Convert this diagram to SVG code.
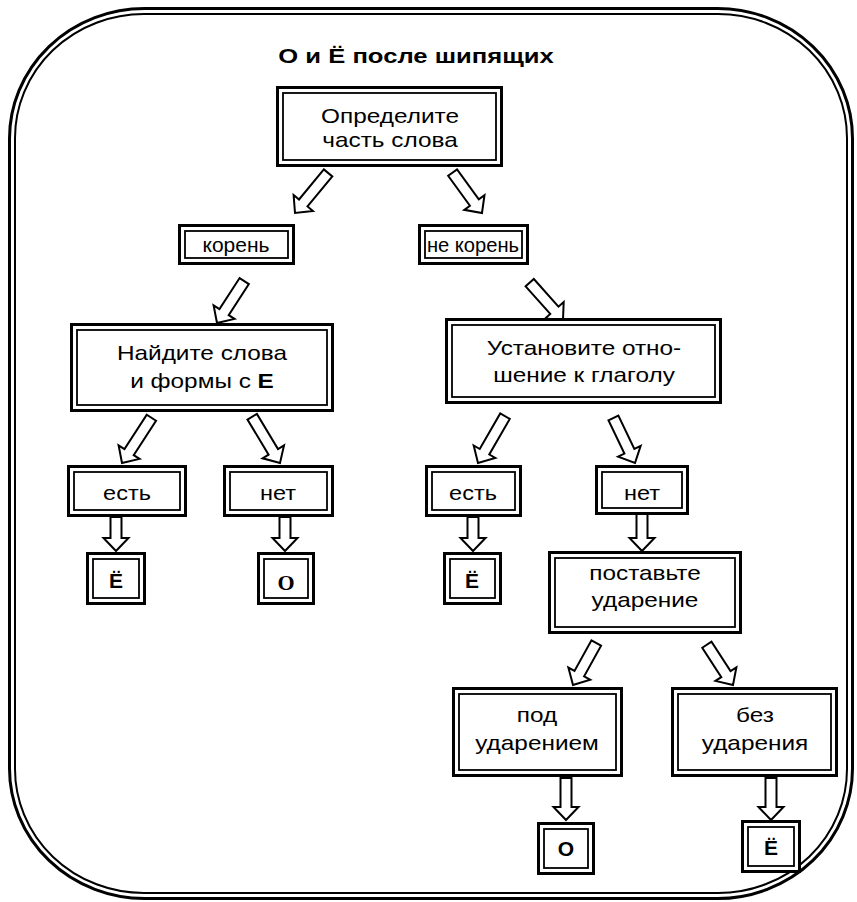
<svg xmlns="http://www.w3.org/2000/svg" xmlns:xlink="http://www.w3.org/1999/xlink" width="857" height="902" viewBox="0 0 857 902">
<style>
.o{fill:#fff;stroke:#000;stroke-width:3}
.i{fill:none;stroke:#000;stroke-width:1.8}
.f{fill:none;stroke:#000}
.t{font-family:"Liberation Sans",Arial,sans-serif;font-size:21px;fill:#000;text-anchor:middle}
.h{font-family:"Liberation Sans",Arial,sans-serif;font-size:21px;font-weight:bold;fill:#000;text-anchor:middle}
.l{font-family:"Liberation Sans",Arial,sans-serif;font-size:21px;font-weight:bold;fill:#000;text-anchor:middle}
.s{font-family:"Liberation Serif","Times New Roman",serif;font-size:22px;font-weight:bold;fill:#000;text-anchor:middle}
.ar{fill:#fff;stroke:#000;stroke-width:2;stroke-linejoin:miter}
</style>
<defs>
<path id="a34" class="ar" d="M-5.5,-34H5.5V-13H12.5L0,0L-12.5,-13H-5.5Z"/>
<path id="a38" class="ar" d="M-5.5,-38H5.5V-13H12.5L0,0L-12.5,-13H-5.5Z"/>
<path id="a42" class="ar" d="M-5.5,-42H5.5V-13H12.5L0,0L-12.5,-13H-5.5Z"/>
<path id="a48" class="ar" d="M-5.5,-48H5.5V-13H12.5L0,0L-12.5,-13H-5.5Z"/>
<path id="a50" class="ar" d="M-5.5,-50H5.5V-13H12.5L0,0L-12.5,-13H-5.5Z"/>
<path id="a52" class="ar" d="M-5.5,-52H5.5V-13H12.5L0,0L-12.5,-13H-5.5Z"/>
<path id="a54" class="ar" d="M-5.5,-54H5.5V-13H12.5L0,0L-12.5,-13H-5.5Z"/>
</defs>
<rect width="857" height="902" fill="#fff"/>
<g id="frame">
<rect class="f" x="9.5" y="8.5" width="843" height="890" rx="135" ry="130" stroke-width="3"/>
<rect class="f" x="15" y="14" width="832" height="879" rx="129" ry="124" stroke-width="2"/>
</g>
<g id="title">
<text class="h" transform="translate(416,0) scale(1.22,1)" y="63">О и Ё после шипящих</text>
</g>
<g id="connectors">
<use xlink:href="#a52" transform="translate(295,213) rotate(39.5)"/>
<use xlink:href="#a50" transform="translate(482,213) rotate(-36)"/>
<use xlink:href="#a50" transform="translate(217,323) rotate(33)"/>
<use xlink:href="#a50" transform="translate(563,320) rotate(-41.7)"/>
<use xlink:href="#a54" transform="translate(122,463) rotate(33)"/>
<use xlink:href="#a54" transform="translate(280,463) rotate(-31)"/>
<use xlink:href="#a54" transform="translate(478,463) rotate(30)"/>
<use xlink:href="#a50" transform="translate(635,463) rotate(-25.6)"/>
<use xlink:href="#a48" transform="translate(573,685) rotate(29)"/>
<use xlink:href="#a48" transform="translate(733,685) rotate(-33)"/>
<use xlink:href="#a34" transform="translate(116,551)"/>
<use xlink:href="#a34" transform="translate(285,551)"/>
<use xlink:href="#a34" transform="translate(473,551)"/>
<use xlink:href="#a38" transform="translate(642,551)"/>
<use xlink:href="#a42" transform="translate(566,820)"/>
<use xlink:href="#a42" transform="translate(771,820)"/>
</g>
<g id="n-start">
<rect class="o" x="277.5" y="87.5" width="224" height="78"/>
<rect class="i" x="283" y="93" width="213" height="67"/>
<text class="t" transform="translate(390,0) scale(1.16,1)"><tspan x="0" y="123">Определите</tspan><tspan x="0" y="147">часть слова</tspan></text>
</g>
<g id="n-root">
<rect class="o" x="179.5" y="225.5" width="114" height="38"/>
<rect class="i" x="185" y="231" width="103" height="27"/>
<text class="t" transform="translate(236,0) scale(1,1)" y="252">корень</text>
</g>
<g id="n-notroot">
<rect class="o" x="419.5" y="225.5" width="108" height="38"/>
<rect class="i" x="425" y="231" width="97" height="27"/>
<text class="t" transform="translate(473,0) scale(0.96,1)" y="252">не корень</text>
</g>
<g id="n-find">
<rect class="o" x="71.5" y="324.5" width="261" height="86"/>
<rect class="i" x="77" y="330" width="250" height="75"/>
<text class="t" transform="translate(202,0) scale(1.16,1)"><tspan x="0" y="360">Найдите слова</tspan><tspan x="0" y="388">и формы с <tspan font-weight="bold">Е</tspan></tspan></text>
</g>
<g id="n-verb">
<rect class="o" x="446.5" y="319.5" width="274" height="83"/>
<rect class="i" x="452" y="325" width="263" height="72"/>
<text class="t" transform="translate(584,0) scale(1.16,1)"><tspan x="0" y="355">Установите отно-</tspan><tspan x="0" y="382">шение к глаголу</tspan></text>
</g>
<g id="n-yes1">
<rect class="o" x="68.5" y="466.5" width="117" height="49"/>
<rect class="i" x="74" y="472" width="106" height="38"/>
<text class="t" transform="translate(127,0) scale(1.12,1)" y="500">есть</text>
</g>
<g id="n-no1">
<rect class="o" x="224.5" y="466.5" width="108" height="49"/>
<rect class="i" x="230" y="472" width="97" height="38"/>
<text class="t" transform="translate(278,0) scale(1.12,1)" y="500">нет</text>
</g>
<g id="n-yo1">
<rect class="o" x="87.5" y="553.5" width="57" height="50"/>
<rect class="i" x="93" y="559" width="46" height="39"/>
<text class="l" x="116" y="588">Ё</text>
</g>
<g id="n-o1">
<rect class="o" x="258.5" y="553.5" width="55" height="50"/>
<rect class="i" x="264" y="559" width="44" height="39"/>
<text class="s" x="286" y="590">О</text>
</g>
<g id="n-yes2">
<rect class="o" x="426.5" y="466.5" width="94" height="49"/>
<rect class="i" x="432" y="472" width="83" height="38"/>
<text class="t" transform="translate(473,0) scale(1.12,1)" y="500">есть</text>
</g>
<g id="n-no2">
<rect class="o" x="596.5" y="466.5" width="91" height="47"/>
<rect class="i" x="602" y="472" width="80" height="36"/>
<text class="t" transform="translate(642,0) scale(1.12,1)" y="500">нет</text>
</g>
<g id="n-yo2">
<rect class="o" x="444.5" y="553.5" width="56" height="50"/>
<rect class="i" x="450" y="559" width="45" height="39"/>
<text class="l" x="472" y="588">Ё</text>
</g>
<g id="n-stress">
<rect class="o" x="549.5" y="552.5" width="191" height="80"/>
<rect class="i" x="555" y="558" width="180" height="69"/>
<text class="t" transform="translate(645,0) scale(1.16,1)"><tspan x="0" y="580">поставьте</tspan><tspan x="0" y="607">ударение</tspan></text>
</g>
<g id="n-under">
<rect class="o" x="453.5" y="688.5" width="168" height="87"/>
<rect class="i" x="459" y="694" width="157" height="76"/>
<text class="t" transform="translate(537,0) scale(1.16,1)"><tspan x="0" y="722">под</tspan><tspan x="0" y="750">ударением</tspan></text>
</g>
<g id="n-nostress">
<rect class="o" x="672.5" y="688.5" width="164" height="87"/>
<rect class="i" x="678" y="694" width="153" height="76"/>
<text class="t" transform="translate(755,0) scale(1.16,1)"><tspan x="0" y="722">без</tspan><tspan x="0" y="750">ударения</tspan></text>
</g>
<g id="n-o2">
<rect class="o" x="538.5" y="823.5" width="55" height="50"/>
<rect class="i" x="544" y="829" width="44" height="39"/>
<text class="l" x="566" y="856" font-size="22">О</text>
</g>
<g id="n-yo3">
<rect class="o" x="742.5" y="821.5" width="57" height="50"/>
<rect class="i" x="748" y="827" width="46" height="39"/>
<text class="l" x="771" y="855">Ё</text>
</g>
</svg>
